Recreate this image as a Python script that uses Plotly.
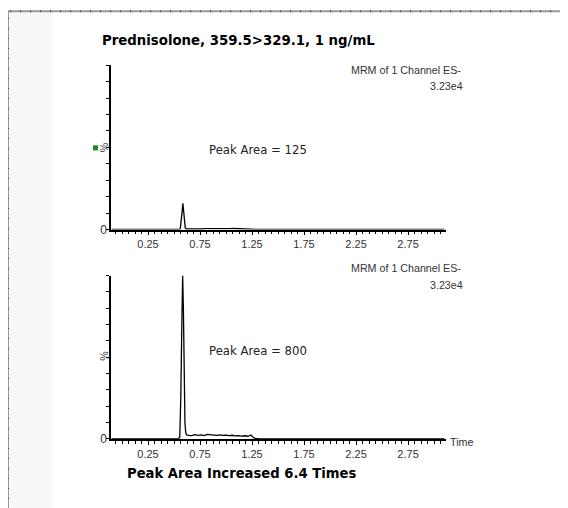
import plotly.graph_objects as go

# page has an 8px body margin; the capture is scaled vertically by 508/516
W, H = 560, 508
OFF = 8
KY = 508.0 / 516.0

# ---- data ----
title_text = "Prednisolone, 359.5>329.1, 1 ng/mL"
footer_text = "Peak Area Increased 6.4 Times"
header_line1 = "MRM of 1 Channel ES-"
header_line2 = "3.23e4"
peak_area_top = 125
peak_area_bottom = 800
x_tick_vals = [0.25, 0.75, 1.25, 1.75, 2.25, 2.75]
x_tick_text = ["0.25", "0.75", "1.25", "1.75", "2.25", "2.75"]

time_top = [-0.10, 0.00, 0.20, 0.40, 0.55, 0.560, 0.570, 0.578, 0.585, 0.592, 0.600, 0.608,
            0.62, 0.68, 0.75, 0.82, 0.88, 0.93, 0.98, 1.03, 1.08, 1.13, 1.18, 1.22, 1.26, 1.30,
            1.60, 2.00, 2.50, 3.00, 3.10]
intensity_top = [0.0, 0.0, 0.0, 0.0, 0.0, 0.5, 5.0, 11.0, 16.0, 11.0, 4.0, 1.0,
                 0.3, 0.2, 0.3, 0.5, 0.4, 0.6, 0.4, 0.5, 0.6, 0.4, 0.6, 0.4, 0.2, 0.0,
                 0.0, 0.0, 0.0, 0.0, 0.0]

time_bottom = [-0.10, 0.00, 0.20, 0.40, 0.54, 0.555, 0.565, 0.575, 0.583, 0.590, 0.598, 0.605,
               0.612, 0.62, 0.64, 0.67, 0.70, 0.73, 0.76, 0.79, 0.82, 0.85, 0.88, 0.91, 0.94,
               0.97, 1.00, 1.03, 1.06, 1.09, 1.12, 1.15, 1.18, 1.21, 1.24, 1.26, 1.28, 1.32,
               1.60, 2.00, 2.50, 3.00, 3.10]
intensity_bottom = [0.0, 0.0, 0.0, 0.0, 0.0, 1.0, 25.0, 70.0, 100.0, 80.0, 35.0, 10.0,
                    4.0, 2.5, 2.2, 2.0, 2.6, 2.2, 2.4, 2.0, 2.8, 2.5, 2.6, 2.2, 2.4,
                    2.1, 2.3, 2.0, 2.2, 1.8, 2.0, 1.7, 1.9, 1.6, 2.4, 1.0, 0.3, 0.0,
                    0.0, 0.0, 0.0, 0.0, 0.0]

# ---- layout helpers (screen pixel -> paper) ----
def px(x):
    return (x - OFF) / W

def py(y):
    return 1 - (y / KY - OFF) / H

x_range = [-0.106, 3.115]
x_dom = [px(111), px(446)]
y1_dom = [py(229), py(65)]
y2_dom = [py(438), py(275)]

fig = go.Figure()
fig.add_trace(go.Scatter(x=time_top, y=intensity_top, mode="lines",
                         line=dict(color="black", width=1.3), xaxis="x", yaxis="y",
                         showlegend=False, hoverinfo="skip"))
fig.add_trace(go.Scatter(x=time_bottom, y=intensity_bottom, mode="lines",
                         line=dict(color="black", width=1.3), xaxis="x2", yaxis="y2",
                         showlegend=False, hoverinfo="skip"))

tickfont = dict(family="Liberation Sans, Arial, sans-serif", size=11, color="#333")

def xaxis(anchor):
    return dict(domain=x_dom, range=x_range, anchor=anchor, showgrid=False, zeroline=False,
                showline=True, linecolor="black", linewidth=1.5,
                tickmode="array", tickvals=x_tick_vals, ticktext=x_tick_text,
                ticks="outside", ticklen=4, tickcolor="black", tickwidth=1,
                minor=dict(dtick=0.0625, tick0=0.25, ticks="outside", ticklen=3,
                           tickcolor="black", tickwidth=1),
                tickfont=tickfont, fixedrange=True)

def yaxis(dom, anchor):
    return dict(domain=dom, range=[0, 100], anchor=anchor, showgrid=False, zeroline=False,
                showline=True, linecolor="black", linewidth=1.5,
                tickmode="array", tickvals=[0], ticktext=["0"], ticks="",
                minor=dict(dtick=10, tick0=0, ticks="outside", ticklen=3,
                           tickcolor="black", tickwidth=1),
                tickfont=dict(family="Liberation Sans, Arial, sans-serif", size=12, color="#333"),
                fixedrange=True)

fig.update_layout(
    width=W, height=H, margin=dict(l=0, r=0, t=0, b=0),
    paper_bgcolor="white", plot_bgcolor="rgba(0,0,0,0)",
    xaxis=xaxis("y"), yaxis=yaxis(y1_dom, "x"),
    xaxis2=xaxis("y2"), yaxis2=yaxis(y2_dom, "x2"),
    font=dict(family="Liberation Sans, Arial, sans-serif"),
)

shapes = [
    dict(type="rect", xref="paper", yref="paper", x0=px(9), x1=px(52), y0=0, y1=py(12),
         fillcolor="#f8f8f8", line=dict(width=0), layer="below"),
    dict(type="path", xref="paper", yref="paper",
         path=f"M {px(8)} 0 L {px(8)} {py(11)} L 1 {py(11)}",
         line=dict(color="#9a9a9a", width=2)),
    dict(type="path", xref="paper", yref="paper",
         path=f"M {px(8)} 0 L {px(8)} {py(11)} L 1 {py(11)}",
         line=dict(color="#444", width=2, dash="1px,9px")),
    dict(type="rect", xref="paper", yref="paper", x0=px(93), x1=px(98), y0=py(150), y1=py(145),
         fillcolor="#1a8a1a", line=dict(width=0)),
]
fig.update_layout(shapes=shapes)

small = dict(family="Liberation Sans, Arial, sans-serif", size=10.7, color="#333")
mid = dict(family="DejaVu Sans, sans-serif", size=11.7, color="#222")
bold = dict(family="DejaVu Sans, sans-serif", size=13.3, color="black")
bold2 = dict(family="DejaVu Sans, sans-serif", size=13.2, color="black")

ann = []
ann.append(dict(text="<b>" + title_text + "</b>", x=px(100), y=py(40), xanchor="left",
                yanchor="middle", font=bold))
ann.append(dict(text="<b>" + footer_text + "</b>", x=px(125), y=py(473), xanchor="left",
                yanchor="middle", font=bold2))
for y_a, y_b in [(70, 86), (267, 284)]:
    ann.append(dict(text=header_line1, x=px(463), y=py(y_a), xanchor="right",
                    yanchor="middle", font=small))
    ann.append(dict(text=header_line2, x=px(465), y=py(y_b), xanchor="right",
                    yanchor="middle", font=small))
ann.append(dict(text=f"Peak Area = {peak_area_top}", x=px(207), y=py(150), xanchor="left",
                yanchor="middle", font=mid))
ann.append(dict(text=f"Peak Area = {peak_area_bottom}", x=px(207), y=py(350), xanchor="left",
                yanchor="middle", font=mid))
for yc in (147, 355):
    ann.append(dict(text="%", x=px(104), y=py(yc), xanchor="center", yanchor="middle",
                    textangle=-90, font=small))
ann.append(dict(text="Time", x=px(448), y=py(441), xanchor="left", yanchor="middle",
                font=small))
for a in ann:
    a.update(xref="paper", yref="paper", showarrow=False)
fig.update_layout(annotations=ann)

fig.write_html("out.html")
